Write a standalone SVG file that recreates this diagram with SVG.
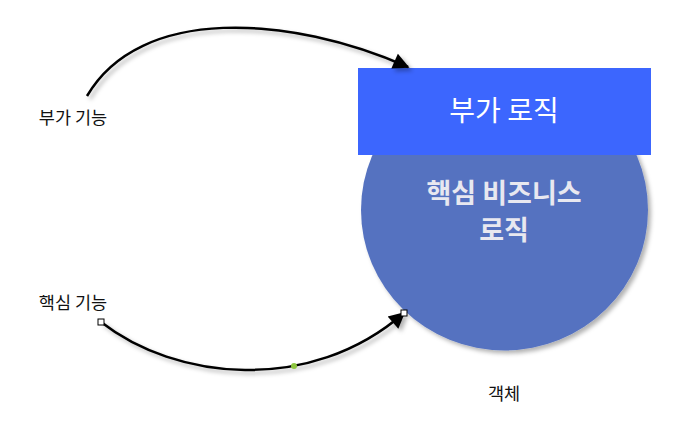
<svg xmlns="http://www.w3.org/2000/svg" width="687" height="426" viewBox="0 0 687 426">
<defs>
<filter id="sh" x="-20%" y="-20%" width="140%" height="140%">
<feDropShadow dx="3" dy="3" stdDeviation="2" flood-color="#000" flood-opacity="0.3"/>
</filter>
<marker id="ah" viewBox="0 0 10 10" refX="9" refY="5" markerWidth="7.5" markerHeight="6.5" markerUnits="strokeWidth" orient="auto">
<path d="M0,0 L10,5 L0,10 z" fill="#000"/>
</marker>
</defs>
<style>
.lbl{font-family:"Noto Sans CJK KR","Noto Sans",sans-serif;font-size:17.5px;fill:#111;text-anchor:middle}
.wt{font-family:"Noto Sans CJK KR","Noto Sans",sans-serif;fill:#fff;text-anchor:middle}
.conn{fill:none;stroke:#000;stroke-width:2.5;marker-end:url(#ah)}
.hd{fill:#fff;stroke:#000;stroke-width:1}
</style>
<rect width="687" height="426" fill="#fff"/>
<g id="core">
<ellipse cx="504.5" cy="210" rx="143.5" ry="140.5" fill="#5572c0" filter="url(#sh)"/>
<text class="wt" x="504" y="203" font-size="27" font-weight="bold" style="fill:#e8e8f0">핵심 비즈니스</text>
<text class="wt" x="504" y="240" font-size="27" font-weight="bold" style="fill:#e8e8f0">로직</text>
</g>
<g id="addon">
<rect x="358" y="68" width="293" height="87" fill="#3c66fe"/>
<text class="wt" x="504" y="121" font-size="28">부가 로직</text>
</g>
<g id="connectors">
<path class="conn" d="M87,96 C140,5 290,15 408,67" filter="url(#sh)"/>
<path class="conn" d="M101,322 C175,380 310,395 404,313" filter="url(#sh)"/>
<rect class="hd" x="98" y="319" width="6" height="6"/>
<rect class="hd" x="401" y="310" width="6" height="6"/>
<circle cx="294" cy="366" r="3" fill="#8dc63f"/>
</g>
<g id="l1"><text class="lbl" x="73" y="124">부가 기능</text></g>
<g id="l2"><text class="lbl" x="73" y="309">핵심 기능</text></g>
<g id="l3"><text class="lbl" x="504" y="400">객체</text></g>
</svg>
